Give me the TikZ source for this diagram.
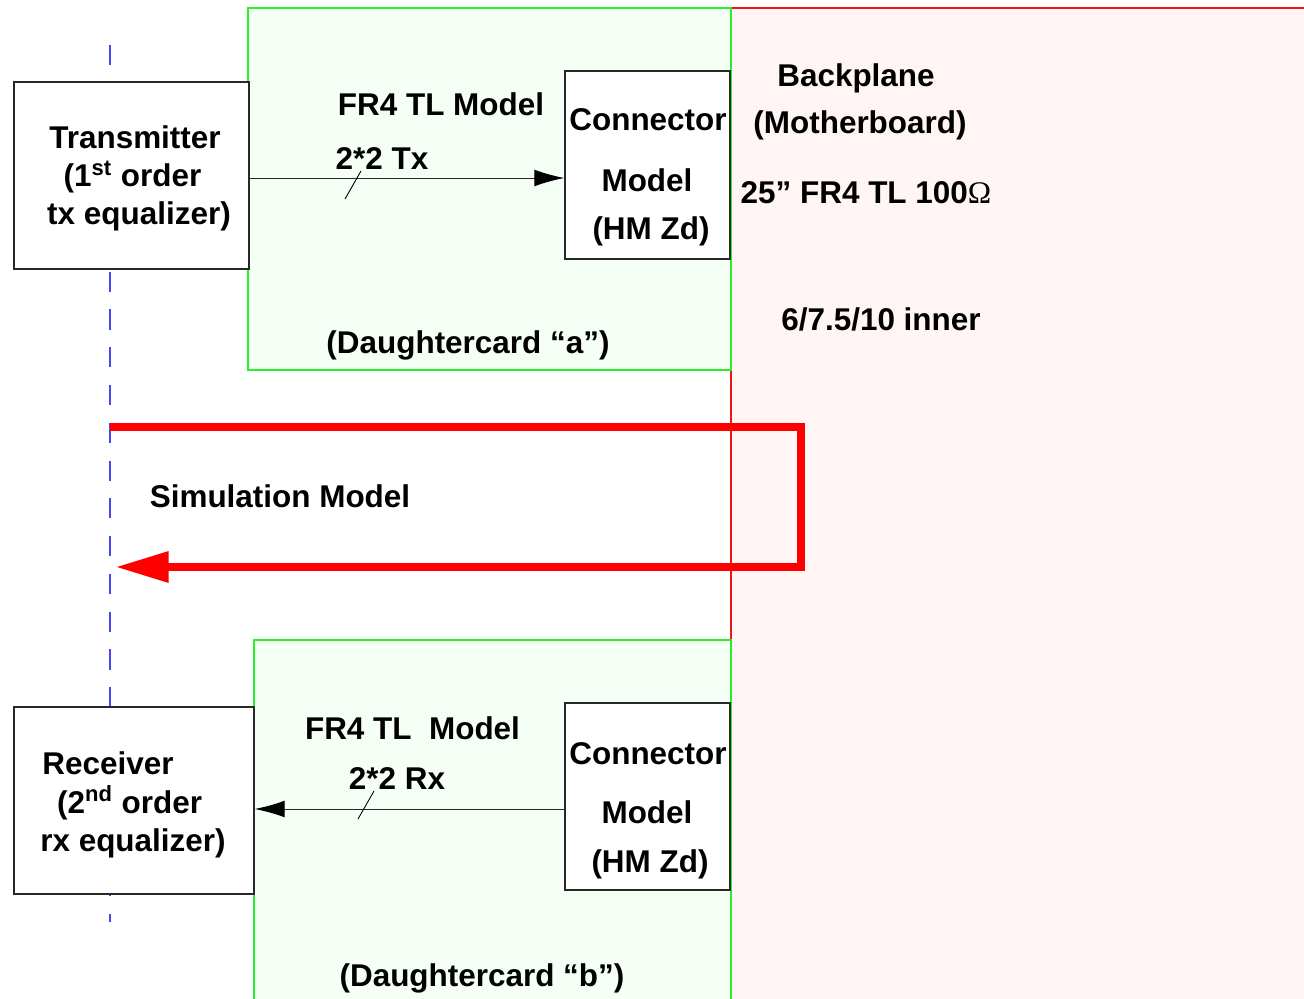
\documentclass[tikz,border=0pt]{standalone}
\usepackage{fontspec}
\setmainfont{Liberation Sans}
\newfontfamily\omegafont{Liberation Serif}
\usetikzlibrary{arrows.meta}
\definecolor{cardfill}{RGB}{246,255,246}
\definecolor{cardline}{RGB}{40,240,40}
\definecolor{planefill}{RGB}{255,245,245}
\definecolor{planeline}{RGB}{240,20,20}
\definecolor{axisblue}{RGB}{70,70,245}
\definecolor{boxline}{RGB}{40,40,40}
\tikzset{
  lbl/.style={font=\fontsize{17.9}{21}\selectfont\bfseries, inner sep=0pt, anchor=base},
  blockbox/.style={draw=boxline, line width=0.8pt, fill=white, inner sep=0pt},
  card/.style={draw=cardline, line width=0.6pt, fill=cardfill},
  sig/.style={draw=boxline, line width=0.55pt, -{Latex[length=17pt,width=9.5pt,color=black]}},
  slashmark/.style={draw=black, line width=0.5pt},
  simpath/.style={draw=red, line width=4pt, line join=miter, -{Triangle[length=30pt,width=17pt]}},
  axisline/.style={draw=axisblue, line width=0.7pt, dash pattern=on 11.5pt off 10pt}
}
\begin{document}
\begin{tikzpicture}[x=0.02cm,y=-0.02cm]
\useasboundingbox (0,0) rectangle (1304,999);
\fill[white] (0,0) rectangle (1304,999);
% backplane region
\fill[planefill] (731,8) rectangle (1304,999);
\draw[planeline, line width=0.6pt] (731,999) -- (731,8) -- (1304,8);
% daughtercards
\path[card] (248,8) rectangle (731,370);
\path[card] (254,640) rectangle (731,1002);
% dashed reference line
\coordinate (axtop) at (110,45);
\coordinate (axbot) at (110,922);
\draw[axisline] (axtop) -- (axbot);
% blocks
\node[blockbox, minimum width=4.7cm, minimum height=3.74cm] (tx) at (131.5,175.5) {};
\node[blockbox, minimum width=3.3cm, minimum height=3.76cm] (conA) at (647.5,165) {};
\node[blockbox, minimum width=4.8cm, minimum height=3.74cm] (rx) at (134,800.5) {};
\node[blockbox, minimum width=3.3cm, minimum height=3.74cm] (conB) at (647.5,796.5) {};
% signal arrows
\draw[sig] (tx.east |- 0,178) -- (conA.west |- 0,178);
\draw[sig] (conB.west |- 0,809) -- (rx.east |- 0,809);
\coordinate (sa1) at (345,199); \coordinate (sa2) at (361,171);
\draw[slashmark] (sa1) -- (sa2);
\coordinate (sb1) at (358,819); \coordinate (sb2) at (374,791);
\draw[slashmark] (sb1) -- (sb2);
% simulation loop
\coordinate (s0) at (110,427);
\coordinate (s1) at (801,427);
\coordinate (s2) at (801,567);
\coordinate (s3) at (116,567);
\draw[simpath] (s0) -- (s1) -- (s2) -- (s3);
% labels transmitter
\node[lbl] (t1) at (135,149) {Transmitter};
\node[lbl] (t2) at (132.5,187) {(1\textsuperscript{st} order};
\node[lbl] (t3) at (139,225) {tx equalizer)};
\node[lbl] (fa) at (441,116) {FR4 TL Model};
\node[lbl] (fb) at (382,170) {2*2 Tx};
\node[lbl] (ca1) at (648,131) {Connector};
\node[lbl] (ca2) at (647,192) {Model};
\node[lbl] (ca3) at (651,240) {(HM Zd)};
\node[lbl] (da) at (468,354) {(Daughtercard “a”)};
% backplane labels
\node[lbl] (b1) at (856,87) {Backplane};
\node[lbl] (b2) at (860,134) {(Motherboard)};
\node[lbl] (b3) at (866,204) {25” FR4 TL 100{\omegafont\mdseries Ω}};
\node[lbl] (b4) at (881,331) {6/7.5/10 inner};
\node[lbl] (sim) at (280,508) {Simulation Model};
% receiver side
\node[lbl] (r1) at (108,774) {Receiver};
\node[lbl] (r2) at (129.6,813) {(2\textsuperscript{nd} order};
\node[lbl] (r3) at (133,851) {rx equalizer)};
\node[lbl] (fc) at (412.5,739) {FR4 TL\ \ Model};
\node[lbl] (fd) at (397,789) {2*2 Rx};
\node[lbl] (cb1) at (648,764) {Connector};
\node[lbl] (cb2) at (647,823) {Model};
\node[lbl] (cb3) at (650,872) {(HM Zd)};
\node[lbl] (db) at (482,986) {(Daughtercard “b”)};
\end{tikzpicture}
\end{document}
